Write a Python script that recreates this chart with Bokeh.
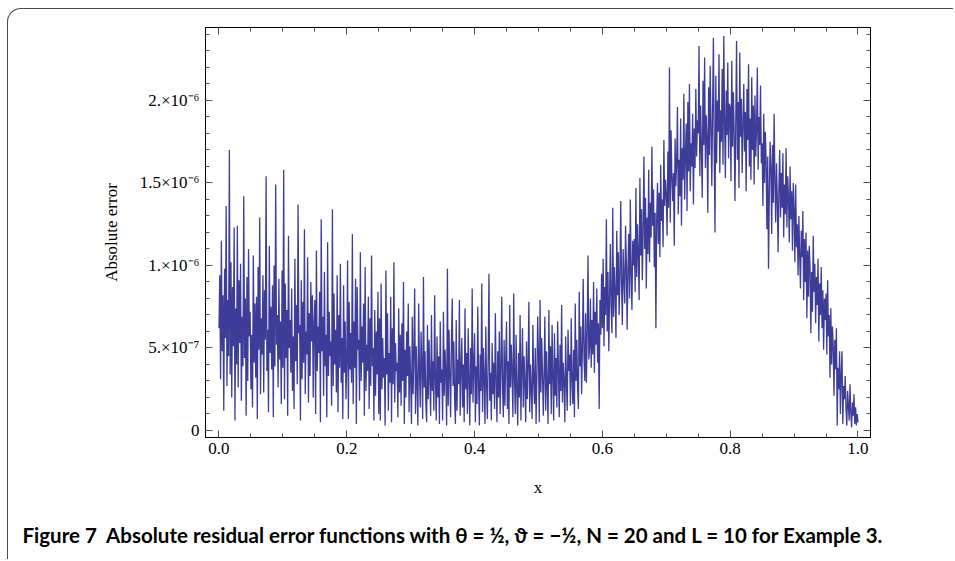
from bokeh.plotting import figure
from bokeh.models import Range1d, FixedTicker, LinearAxis, Title
from bokeh.embed import file_html
from bokeh.resources import INLINE
import numpy as np

# Absolute error values, in units of 1e-7 (x from 0 to 1, step 0.00125)
err_00_05 = [6.2, 9.4, 3.1, 11.5, 4.8, 8.2, 1.2, 9.8, 5.6, 13.6, 2.7, 7.9, 4.5, 17.0, 3.4, 10.2, 2.0, 8.7, 5.1, 12.3,
             0.6, 7.4, 4.0, 12.4, 2.6, 9.1, 5.3, 10.1, 1.8, 6.9, 3.9, 14.2, 4.4, 8.0, 0.9, 9.3, 3.0, 11.0, 5.7, 7.2]
err_05_10 = [2.5, 5.8, 1.4, 10.6, 4.1, 7.7, 3.2, 8.1, 0.7, 9.9, 4.9, 12.9, 2.2, 6.8, 4.6, 9.4, 2.3, 8.5, 5.5, 15.4,
             3.6, 6.1, 1.1, 11.2, 4.7, 7.5, 3.7, 8.8, 0.8, 10.0, 3.9, 14.9, 5.2, 7.0, 2.6, 9.2, 4.3, 6.6, 1.6, 9.7]
err_10_15 = [3.8, 15.8, 1.9, 8.9, 4.4, 7.3, 0.9, 11.8, 5.0, 6.7, 3.5, 8.6, 2.4, 5.7, 1.3, 10.4, 4.2, 7.6, 2.8, 13.7,
             5.9, 6.4, 0.6, 9.1, 3.1, 7.8, 4.1, 12.2, 2.2, 6.0, 4.6, 10.5, 1.7, 7.1, 3.3, 9.0, 5.4, 8.2, 2.0, 6.5]
err_15_20 = [7.9, 1.0, 10.9, 3.6, 6.3, 4.7, 8.4, 0.5, 12.8, 4.8, 6.9, 2.1, 9.6, 3.9, 5.8, 0.8, 11.4, 3.3, 7.2, 4.5,
             5.4, 1.5, 13.4, 2.7, 8.3, 4.0, 6.1, 2.3, 9.4, 1.1, 7.0, 3.8, 10.1, 2.9, 5.6, 0.7, 8.8, 3.5, 6.6, 1.9]
err_20_25 = [4.2, 10.3, 0.7, 7.8, 3.7, 5.9, 2.9, 11.9, 1.6, 6.6, 3.8, 9.2, 0.4, 8.7, 4.9, 5.5, 1.8, 10.8, 3.0, 6.3,
             4.1, 7.7, 0.9, 9.9, 2.4, 5.2, 3.6, 8.1, 1.3, 6.8, 2.7, 10.6, 3.9, 5.0, 0.6, 7.3, 2.1, 6.0, 3.4, 8.4]
err_25_30 = [1.0, 6.8, 0.6, 8.9, 2.5, 5.6, 3.2, 4.4, 0.3, 9.7, 3.4, 7.1, 1.2, 4.7, 2.9, 8.1, 0.5, 6.2, 2.8, 10.2,
             1.7, 5.3, 3.6, 4.1, 0.8, 7.4, 2.3, 5.8, 1.5, 6.5, 3.0, 9.0, 0.4, 4.9, 2.0, 6.0, 3.3, 7.7, 1.1, 5.1]
err_30_35 = [3.1, 0.4, 6.9, 2.2, 4.6, 8.6, 1.0, 5.1, 2.7, 0.3, 7.7, 3.6, 1.4, 6.0, 3.9, 0.7, 9.3, 2.6, 4.8, 1.6,
             0.5, 6.4, 1.9, 5.5, 3.2, 0.9, 7.0, 2.4, 4.2, 1.2, 8.2, 3.0, 0.6, 5.7, 2.0, 4.5, 0.4, 6.6, 2.9, 3.7]
err_35_40 = [0.6, 7.2, 2.1, 4.9, 3.4, 0.3, 9.8, 1.5, 6.1, 3.3, 0.8, 5.2, 8.0, 2.7, 5.4, 1.9, 0.4, 6.7, 1.2, 4.3,
             2.8, 7.9, 0.9, 3.8, 5.6, 1.4, 4.0, 0.5, 7.4, 2.5, 4.7, 1.0, 6.2, 3.1, 0.3, 5.0, 2.2, 8.6, 1.7, 3.9]
err_40_45 = [5.9, 0.5, 3.9, 1.6, 7.5, 2.8, 0.3, 4.6, 2.4, 8.9, 1.1, 5.0, 3.2, 0.4, 6.3, 2.9, 0.7, 4.4, 9.5, 1.8,
             3.5, 0.6, 5.3, 2.2, 4.1, 1.3, 7.1, 3.0, 0.5, 4.8, 2.0, 6.0, 1.0, 3.6, 8.1, 2.6, 0.8, 5.5, 1.5, 4.3]
err_45_50 = [6.6, 1.3, 4.2, 0.4, 7.6, 2.6, 5.2, 3.4, 0.8, 8.3, 3.1, 1.0, 5.8, 2.4, 0.3, 4.7, 2.0, 7.0, 0.6, 3.7,
             6.2, 1.4, 4.5, 2.8, 0.5, 5.4, 1.9, 3.9, 7.8, 1.1, 4.0, 2.5, 0.7, 6.4, 3.0, 1.6, 5.0, 0.4, 3.3, 6.9]
err_50_55 = [4.5, 0.5, 7.9, 2.3, 5.6, 3.5, 0.9, 3.4, 6.9, 1.2, 4.8, 2.6, 0.4, 7.3, 2.8, 5.1, 1.0, 6.4, 3.2, 0.6,
             5.9, 2.1, 4.4, 1.4, 6.6, 3.7, 0.8, 5.2, 2.4, 7.6, 1.7, 4.1, 3.0, 0.5, 5.7, 2.9, 1.2, 6.1, 3.6, 4.6]
err_55_60 = [1.5, 6.8, 3.0, 1.6, 4.9, 0.8, 7.7, 3.0, 5.5, 2.5, 1.3, 8.4, 3.9, 6.3, 2.2, 5.1, 9.2, 4.4, 3.0, 7.1,
             2.9, 6.0, 10.6, 4.3, 5.0, 8.0, 3.8, 6.7, 4.6, 9.0, 3.5, 7.2, 5.2, 8.6, 4.1, 6.5, 1.3, 7.9, 5.8, 9.5]
err_60_65 = [6.2, 10.4, 5.1, 8.7, 7.0, 12.8, 6.0, 9.6, 4.8, 8.1, 11.3, 7.4, 5.9, 13.5, 6.9, 9.9, 8.3, 5.6, 12.1, 8.2,
             10.8, 7.0, 9.4, 13.9, 8.8, 6.4, 11.0, 9.2, 7.7, 12.4, 10.1, 6.1, 9.8, 11.9, 8.0, 14.0, 9.5, 7.3, 11.5, 10.0]
err_65_70 = [11.6, 8.4, 14.7, 9.3, 12.5, 10.6, 7.9, 15.3, 10.6, 13.4, 9.1, 12.0, 16.6, 11.0, 14.1, 8.6, 12.9, 10.7, 15.8, 10.2,
             13.8, 11.7, 17.2, 12.4, 14.6, 9.9, 13.2, 6.2, 12.8, 15.0, 11.3, 14.4, 10.5, 16.1, 12.7, 14.0, 11.1, 17.6, 13.6, 15.2]
err_70_75 = [14.3, 11.8, 16.9, 13.5, 22.0, 12.6, 18.2, 15.4, 13.9, 15.6, 11.2, 17.7, 14.8, 16.3, 19.6, 13.1, 16.4, 14.2, 18.9, 12.4,
             17.1, 15.2, 20.4, 14.0, 16.8, 18.6, 13.3, 19.9, 15.7, 21.0, 14.5, 17.4, 16.0, 19.2, 13.7, 18.3, 15.9, 20.7, 16.6, 18.8]
err_75_80 = [18.0, 23.3, 15.4, 19.7, 17.1, 14.1, 21.2, 17.3, 22.6, 15.9, 19.1, 17.8, 13.2, 20.8, 16.7, 22.1, 18.4, 14.8, 19.5, 23.8,
             16.9, 12.0, 21.5, 16.2, 20.0, 18.1, 22.8, 15.6, 19.4, 17.5, 21.9, 16.1, 23.9, 18.7, 15.3, 20.6, 17.9, 22.3, 16.5, 19.8]
err_80_85 = [19.6, 15.1, 22.4, 17.2, 20.5, 18.0, 13.9, 18.8, 23.6, 16.4, 19.9, 14.7, 22.9, 17.8, 20.1, 15.6, 18.5, 21.0, 16.9, 19.3,
             14.5, 20.7, 17.6, 22.2, 16.0, 18.9, 15.2, 21.4, 17.0, 19.7, 14.9, 20.3, 16.6, 18.2, 22.0, 15.8, 19.0, 17.3, 20.9, 16.2]
err_85_90 = [17.4, 13.6, 19.2, 15.0, 18.1, 16.3, 12.2, 16.6, 9.8, 14.3, 17.5, 16.0, 11.9, 17.3, 13.8, 19.2, 15.1, 12.6, 16.2, 14.0,
             10.8, 14.7, 17.0, 12.9, 15.6, 13.5, 16.8, 11.7, 14.9, 13.1, 17.1, 12.3, 15.4, 14.2, 11.4, 16.0, 12.8, 14.5, 10.9, 15.0]
err_90_95 = [13.4, 10.2, 14.9, 11.1, 12.5, 9.4, 13.0, 10.6, 8.6, 12.1, 10.5, 13.3, 7.9, 11.6, 9.0, 12.0, 6.8, 10.9, 8.1, 11.2,
             9.8, 5.9, 9.6, 7.2, 11.8, 8.4, 10.1, 6.5, 9.3, 7.6, 10.4, 5.4, 8.9, 7.0, 9.9, 6.2, 8.5, 4.9, 8.0, 6.7]
err_95_100 = [8.3, 4.6, 9.1, 5.7, 7.0, 3.2, 7.4, 4.0, 6.3, 5.1, 2.1, 5.5, 3.7, 6.2, 0.3, 3.8, 2.5, 4.8, 1.0, 3.4,
              4.8, 0.4, 2.7, 1.9, 3.3, 1.3, 0.3, 2.4, 1.5, 0.6, 2.8, 1.1, 0.2, 1.7, 0.9, 2.2, 0.4, 1.4, 0.3, 1.0, 0.5]

x_ticks = [0.0, 0.2, 0.4, 0.6, 0.8, 1.0]
x_tick_labels = ["0.0", "0.2", "0.4", "0.6", "0.8", "1.0"]
y_ticks = [0.0, 5e-7, 1e-6, 1.5e-6, 2e-6]
y_tick_labels = ["0", "5.\u00d710\u207b\u2077", "1.\u00d710\u207b\u2076", "1.5\u00d710\u207b\u2076", "2.\u00d710\u207b\u2076"]

x_label = "x"
y_label = "Absolute error"
caption = ("Figure 7\u00a0 Absolute residual error functions with \u03b8 = \u00bd, \u03d1 = \u2212\u00bd, "
           "N = 20 and L = 10 for Example 3.")

vals = np.array(err_00_05 + err_05_10 + err_10_15 + err_15_20 + err_20_25 + err_25_30 + err_30_35 +
                err_35_40 + err_40_45 + err_45_50 + err_50_55 + err_55_60 + err_60_65 + err_65_70 +
                err_70_75 + err_75_80 + err_80_85 + err_85_90 + err_90_95 + err_95_100) * 1e-7
xs = np.linspace(0.0, 1.0, len(vals))

W, H = 946, 551
p = figure(width=W, height=H, output_backend="svg", toolbar_location=None, title=None,
           x_range=Range1d(-0.0211, 1.0196), y_range=Range1d(-0.0424e-6, 2.442e-6),
           min_border_left=197, min_border_right=84, min_border_top=18, min_border_bottom=123,
           y_axis_label=y_label,
           styles={"margin-left": "7px", "margin-top": "8px",
                   "border-top": "1.3px solid #4a4a4a", "border-left": "1.3px solid #4a4a4a",
                   "border-top-left-radius": "14px"})
p.border_fill_color = None
p.background_fill_color = "white"
p.outline_line_color = "black"
p.grid.visible = False

line_color = "#3d3d99"
p.line(xs, vals, line_color=line_color, line_width=1.3)

x_minor = [i * 0.05 for i in range(21)]
y_minor = [i * 1e-7 for i in range(25)]
xt = FixedTicker(ticks=x_ticks, minor_ticks=x_minor)
yt = FixedTicker(ticks=y_ticks, minor_ticks=y_minor)

serif = "Liberation Serif"

def style_axis(ax, labels=True):
    ax.axis_line_color = "black"
    ax.major_tick_line_color = "#555555"
    ax.minor_tick_line_color = "#555555"
    ax.major_tick_in = 7
    ax.major_tick_out = 0
    ax.minor_tick_in = 4
    ax.minor_tick_out = 0
    ax.major_label_text_font = serif
    ax.major_label_text_color = "black"
    ax.axis_label_text_font = serif
    ax.axis_label_text_font_style = "normal"
    ax.axis_label_text_color = "black"
    if not labels:
        ax.major_label_text_font_size = "0px"
        ax.major_label_standoff = 0

xa = p.xaxis[0]
xa.ticker = xt
style_axis(xa)
xa.major_label_overrides = {t: s for t, s in zip(x_ticks, x_tick_labels)}
xa.major_label_text_font_size = "17px"
xa.major_label_standoff = 5

ya = p.yaxis[0]
ya.ticker = yt
style_axis(ya)
ya.major_label_overrides = {t: s for t, s in zip(y_ticks, y_tick_labels)}
ya.major_label_text_font_size = "17px"
ya.major_label_standoff = 6
ya.axis_label_text_font_size = "17px"
ya.axis_label_standoff = 16

top_ax = LinearAxis(ticker=FixedTicker(ticks=x_ticks, minor_ticks=x_minor),
                    major_label_overrides={t: "" for t in x_ticks})
style_axis(top_ax, labels=False)
p.add_layout(top_ax, "above")
right_ax = LinearAxis(ticker=FixedTicker(ticks=y_ticks, minor_ticks=y_minor),
                      major_label_overrides={t: "" for t in y_ticks})
style_axis(right_ax, labels=False)
p.add_layout(right_ax, "right")

xlab = Title(text=x_label, align="center", standoff=38,
             text_font=serif, text_font_size="17px", text_font_style="normal", text_color="black")
p.add_layout(xlab, "below")

cap = Title(text=caption, align="left", offset=-183, standoff=10,
            text_font="Lato", text_font_size="20.5px", text_font_style="bold", text_color="black")
p.add_layout(cap, "below")

open("out.html", "w").write(file_html(p, INLINE))
